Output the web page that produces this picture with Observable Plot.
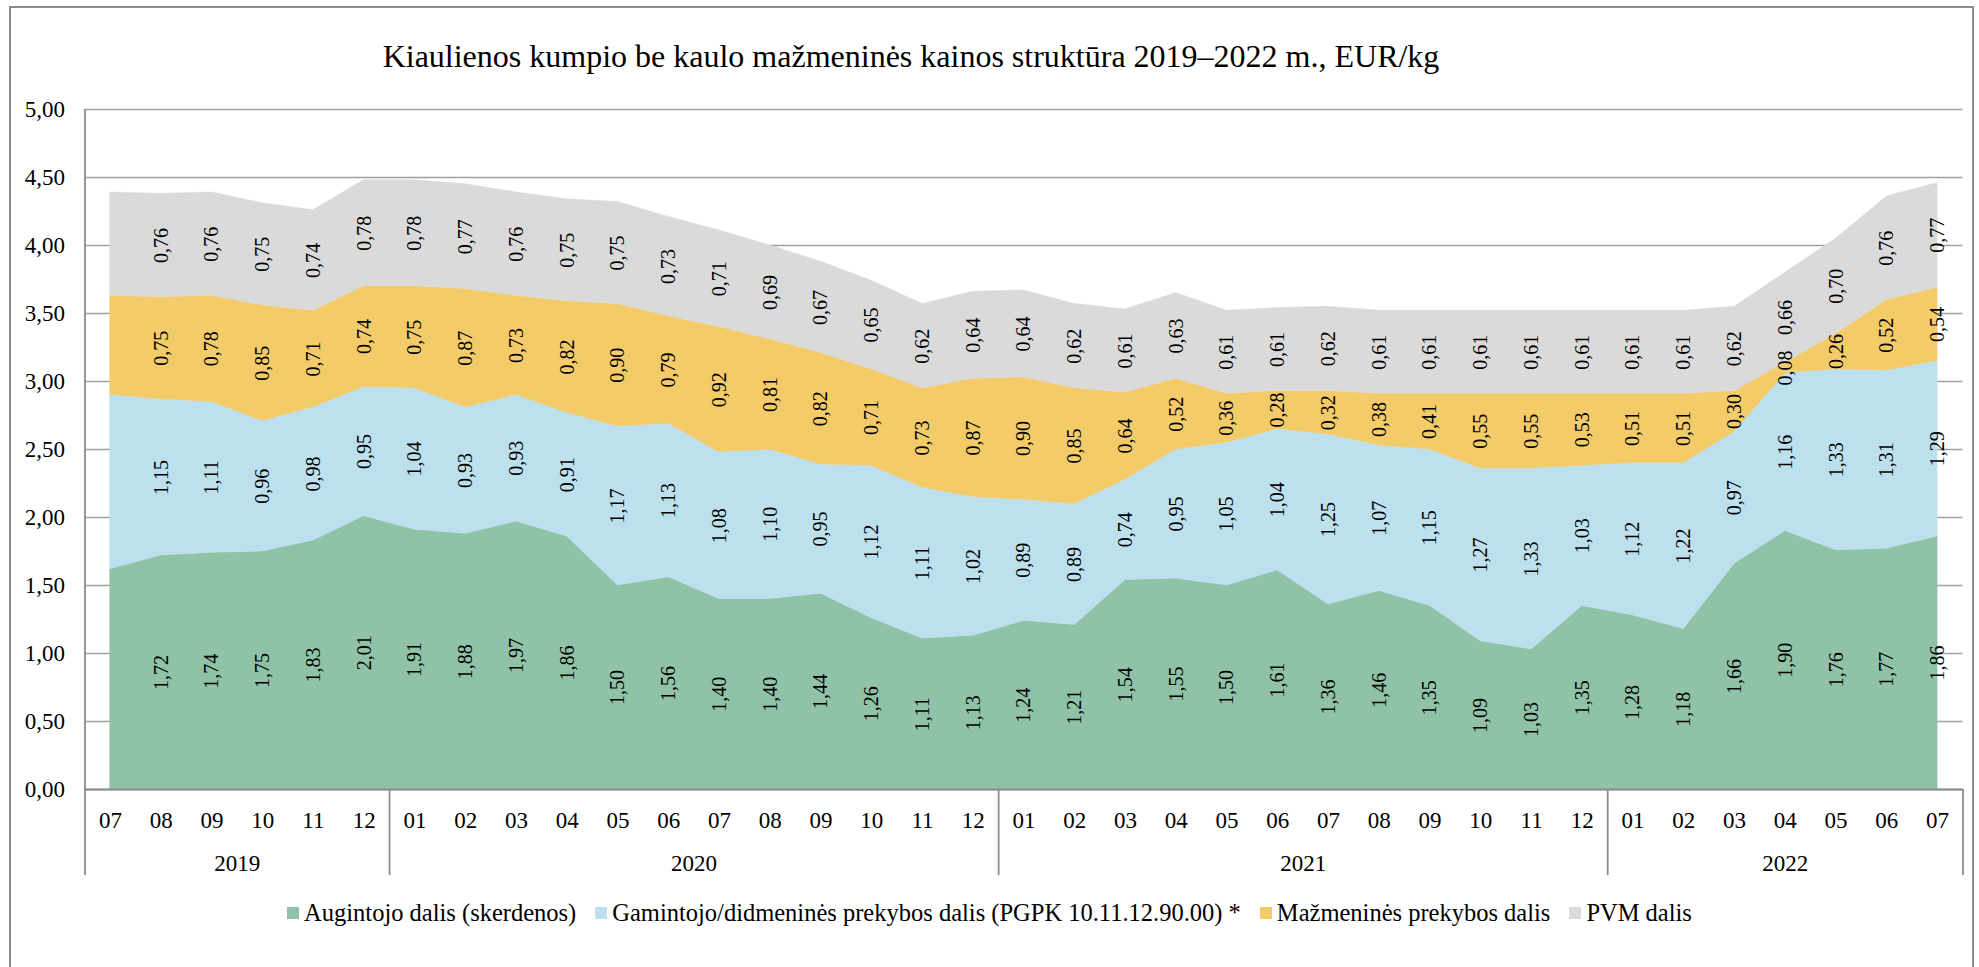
<!DOCTYPE html>
<html><head><meta charset="utf-8">
<script src="https://cdn.jsdelivr.net/npm/d3@7"></script>
<script src="https://cdn.jsdelivr.net/npm/@observablehq/plot@0.6"></script>
<style>
html,body{margin:0;padding:0;background:#fff;}
body{width:1979px;height:967px;position:relative;overflow:hidden;font-family:"Liberation Serif","Times New Roman",serif;color:#000;}
#chart{position:absolute;left:0;top:0;}
#frame{position:absolute;left:9px;top:6px;width:1965px;height:1000px;border:2px solid #8c8c8c;border-bottom:none;box-sizing:border-box;pointer-events:none;}
#title{position:absolute;top:40px;left:0;width:1822px;text-align:center;font-size:32px;line-height:32px;white-space:nowrap;font-family:"Liberation Serif","Times New Roman",serif;}
#legend{position:absolute;top:899px;left:0;width:1979px;display:flex;justify-content:center;gap:19px;font-size:24.5px;line-height:28px;white-space:nowrap;font-family:"Liberation Serif","Times New Roman",serif;}
.item{display:flex;align-items:center;gap:5px;}
.sw{width:12px;height:12px;display:inline-block;}
</style></head>
<body>
<div id="chart"></div>
<div id="title">Kiaulienos kumpio be kaulo mažmeninės kainos struktūra 2019–2022 m., EUR/kg</div>
<div id="legend"></div>
<div id="frame"></div>
<script>
// Category labels
const months = ["07","08","09","10","11","12",
  "01","02","03","04","05","06","07","08","09","10","11","12",
  "01","02","03","04","05","06","07","08","09","10","11","12",
  "01","02","03","04","05","06","07"];
const years = ["2019","2019","2019","2019","2019","2019",
  "2020","2020","2020","2020","2020","2020","2020","2020","2020","2020","2020","2020",
  "2021","2021","2021","2021","2021","2021","2021","2021","2021","2021","2021","2021",
  "2022","2022","2022","2022","2022","2022","2022"];

// Series values (EUR/kg)
const augintojo = [1.62,1.72,1.74,1.75,1.83,2.01,
  1.91,1.88,1.97,1.86,1.50,1.56,1.40,1.40,1.44,1.26,1.11,1.13,
  1.24,1.21,1.54,1.55,1.50,1.61,1.36,1.46,1.35,1.09,1.03,1.35,
  1.28,1.18,1.66,1.90,1.76,1.77,1.86];
const gamintojo = [1.28,1.15,1.11,0.96,0.98,0.95,
  1.04,0.93,0.93,0.91,1.17,1.13,1.08,1.10,0.95,1.12,1.11,1.02,
  0.89,0.89,0.74,0.95,1.05,1.04,1.25,1.07,1.15,1.27,1.33,1.03,
  1.12,1.22,0.97,1.16,1.33,1.31,1.29];
const mazmenines = [0.73,0.75,0.78,0.85,0.71,0.74,
  0.75,0.87,0.73,0.82,0.90,0.79,0.92,0.81,0.82,0.71,0.73,0.87,
  0.90,0.85,0.64,0.52,0.36,0.28,0.32,0.38,0.41,0.55,0.55,0.53,
  0.51,0.51,0.30,0.08,0.26,0.52,0.54];
const pvm = [0.76,0.76,0.76,0.75,0.74,0.78,
  0.78,0.77,0.76,0.75,0.75,0.73,0.71,0.69,0.67,0.65,0.62,0.64,
  0.64,0.62,0.61,0.63,0.61,0.61,0.62,0.61,0.61,0.61,0.61,0.61,
  0.61,0.61,0.62,0.66,0.70,0.76,0.77];

const seriesNames = [
  "Augintojo dalis (skerdenos)",
  "Gamintojo/didmeninės prekybos dalis (PGPK 10.11.12.90.00) *",
  "Mažmeninės prekybos dalis",
  "PVM dalis"
];
const seriesColors = ["#8FC2A6", "#BDE0EF", "#F4CB69", "#DADADA"];
const yTicks = [0, 0.5, 1, 1.5, 2, 2.5, 3, 3.5, 4, 4.5, 5];

const seriesValues = [augintojo, gamintojo, mazmenines, pvm];
const data = [];
seriesValues.forEach((vals, s) => vals.forEach((v, i) => data.push({i, series: seriesNames[s], value: v})));

const fmt = v => v.toFixed(2).replace(".", ",");
const serif = "'Liberation Serif', 'Times New Roman', serif";

// Year groups
const yearNames = Array.from(new Set(years));
const yearGroups = yearNames.map(y => {
  const idx = years.map((v, i) => v === y ? i : -1).filter(i => i >= 0);
  return {year: y, first: idx[0], last: idx[idx.length - 1], center: (idx[0] + idx[idx.length - 1]) / 2};
});
const separators = yearGroups.slice(1).map(g => g.first - 0.5).concat([months.length - 0.5]);
const lineColor = "#8c8c8c";
const gridColor = "#a0a0a0";

const chart = Plot.plot({
  width: 1979,
  height: 967,
  marginLeft: 84.5,
  marginRight: 16.5,
  marginTop: 109,
  marginBottom: 178,
  x: {type: "linear", domain: [-0.5, months.length - 0.5]},
  y: {domain: [0, 5]},
  color: {domain: seriesNames, range: seriesColors},
  style: {fontFamily: serif, color: "#000", background: "transparent"},
  marks: [
    Plot.ruleY(yTicks, {stroke: gridColor, strokeWidth: 1.6}),
    Plot.areaY(data, {x: "i", y: "value", fill: "series", stroke: "series", strokeWidth: 0.5}),
    Plot.ruleY([0], {stroke: lineColor, strokeWidth: 1.8}),
    Plot.ruleX([-0.5], {stroke: lineColor, strokeWidth: 1.8, insetBottom: -86}),
    Plot.ruleX(separators, {x: d => d, y1: 0, y2: 0, stroke: lineColor, strokeWidth: 1.8, insetBottom: -86}),
    Plot.text(data, Plot.stackY({
      filter: d => d.i > 0,
      x: "i", y: "value", z: "series",
      text: d => fmt(d.value),
      rotate: -90, fontSize: 20, fill: "#000", fontFamily: serif
    })),
    Plot.axisY({ticks: yTicks, tickFormat: fmt, tickSize: 0, tickPadding: 20, fontSize: 23, fontFamily: serif, label: null}),
    Plot.axisX({ticks: d3.range(months.length), tickFormat: i => months[i], tickSize: 0, tickPadding: 22, fontSize: 23, fontFamily: serif, label: null}),
    Plot.axisX({ticks: yearGroups.map(g => g.center), tickFormat: t => yearGroups.find(g => g.center === t).year, tickSize: 0, tickPadding: 65, fontSize: 23, fontFamily: serif, label: null})
  ]
});
document.getElementById("chart").appendChild(chart);

// Legend
const legend = document.getElementById("legend");
seriesNames.forEach((name, k) => {
  const item = document.createElement("div");
  item.className = "item";
  const sw = document.createElement("span");
  sw.className = "sw";
  sw.style.background = seriesColors[k];
  const label = document.createElement("span");
  label.textContent = name;
  item.appendChild(sw);
  item.appendChild(label);
  legend.appendChild(item);
});
</script>
</body></html>
